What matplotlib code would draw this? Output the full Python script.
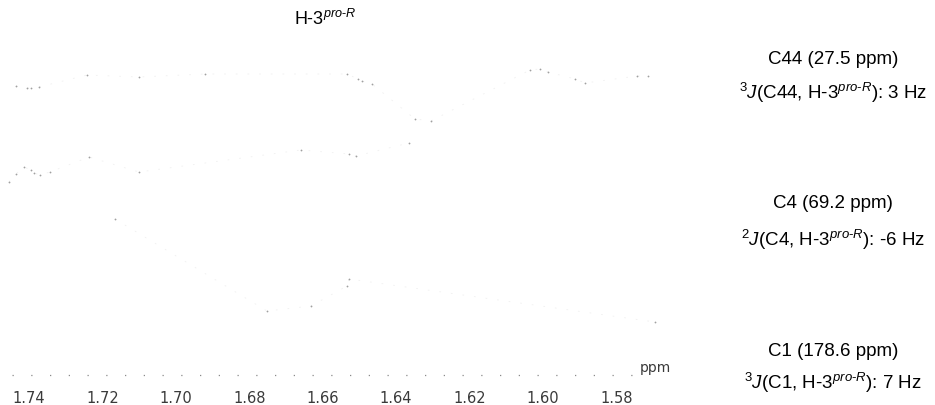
import matplotlib
matplotlib.use("Agg")
import matplotlib.pyplot as plt

plt.rcParams['font.family'] = ['Liberation Sans', 'DejaVu Sans']
plt.rcParams['mathtext.fontset'] = 'custom'
plt.rcParams['mathtext.rm'] = 'Liberation Sans'
plt.rcParams['mathtext.it'] = 'Liberation Sans:italic'
plt.rcParams['mathtext.bf'] = 'Liberation Sans:bold'

# ---- data ----
tick_values = [1.74, 1.72, 1.70, 1.68, 1.66, 1.64, 1.62, 1.60, 1.58]
tick_labels = ["1.74", "1.72", "1.70", "1.68", "1.66", "1.64", "1.62", "1.60", "1.58"]

# C44 trace (ppm, intensity relative to its baseline)
c44_ppm = [1.74354, 1.74054, 1.73946, 1.73728, 1.72420, 1.71003, 1.69204,
           1.65335, 1.65035, 1.64926, 1.64654, 1.63482, 1.63046, 1.60349,
           1.60076, 1.59857, 1.59121, 1.58849, 1.57432, 1.57132]
c44_int = [-6, -8, -8, -7, 5, 3, 6, 6, 1, -1, -4, -39, -41, 10, 11, 8, 1, -3, 4, 4]

# C4 trace
c4_ppm = [1.74545, 1.74354, 1.74136, 1.73946, 1.73864, 1.73700, 1.73428,
          1.72365, 1.71003, 1.66588, 1.65280, 1.65091, 1.63645]
c4_int = [-12, -4, 3, 0, -3, -5, -2, 13, -2, 20, 16, 14, 27]

# C1 trace
c1_ppm = [1.71657, 1.67515, 1.66316, 1.65335, 1.65280, 1.56941]
c1_int = [86, -6, -1, 19, 26, -17]

baseline_ppm = [1.7446, 1.5730]
baseline_int = [5, 5]

fig = plt.figure(figsize=(9.35, 4.05), dpi=100)
ax = fig.add_axes([0.0, 25 / 405, 665 / 935, 340 / 405])
ax.set_xlim(1.7479, 1.5667)
ax.set_ylim(0, 340)

line_color = '#f0f0f0'
dot_color = '#a0a0a0'
for ppm, vals, base in [(c44_ppm, c44_int, 300),
                        (c4_ppm, c4_int, 210),
                        (c1_ppm, c1_int, 75)]:
    yy = [base + v for v in vals]
    ax.plot(ppm, yy, color=line_color, lw=0.6, ls=(0, (2, 12)))
    ax.plot(ppm, yy, ls='none', marker='o', ms=1.3, mec='none', mfc=dot_color)

ax.plot(baseline_ppm, baseline_int, color='#8a8a8a', lw=0.9, ls=(0, (1, 14)))

for s in ax.spines.values():
    s.set_visible(False)
ax.set_yticks([])
ax.set_xticks(tick_values)
ax.set_xticklabels(tick_labels, fontsize=10.5, color='#3a3a3a',
                   family='DejaVu Sans')
ax.tick_params(axis='x', length=0, pad=8)

fig.text(655 / 935, 1 - 368 / 405, "ppm", fontsize=10, color='#3a3a3a',
         ha='center', va='center', family='DejaVu Sans')

fig.text(325 / 935, 1 - 19 / 405, r"H-3$^{pro\text{-}R}$", fontsize=13,
         ha='center', va='center')

right_x = 833 / 935
labels = [
    (60, "C44 (27.5 ppm)"),
    (93, r"$^{\mathrm{3}}J$(C44, H-3$^{pro\text{-}R}$): 3 Hz"),
    (204, "C4 (69.2 ppm)"),
    (240, r"$^{\mathrm{2}}J$(C4, H-3$^{pro\text{-}R}$): -6 Hz"),
    (352, "C1 (178.6 ppm)"),
    (383, r"$^{\mathrm{3}}J$(C1, H-3$^{pro\text{-}R}$): 7 Hz"),
]
for ypx, txt in labels:
    fig.text(right_x, 1 - ypx / 405, txt, fontsize=13.5, ha='center', va='center')

fig.savefig("out.png", dpi=100)
